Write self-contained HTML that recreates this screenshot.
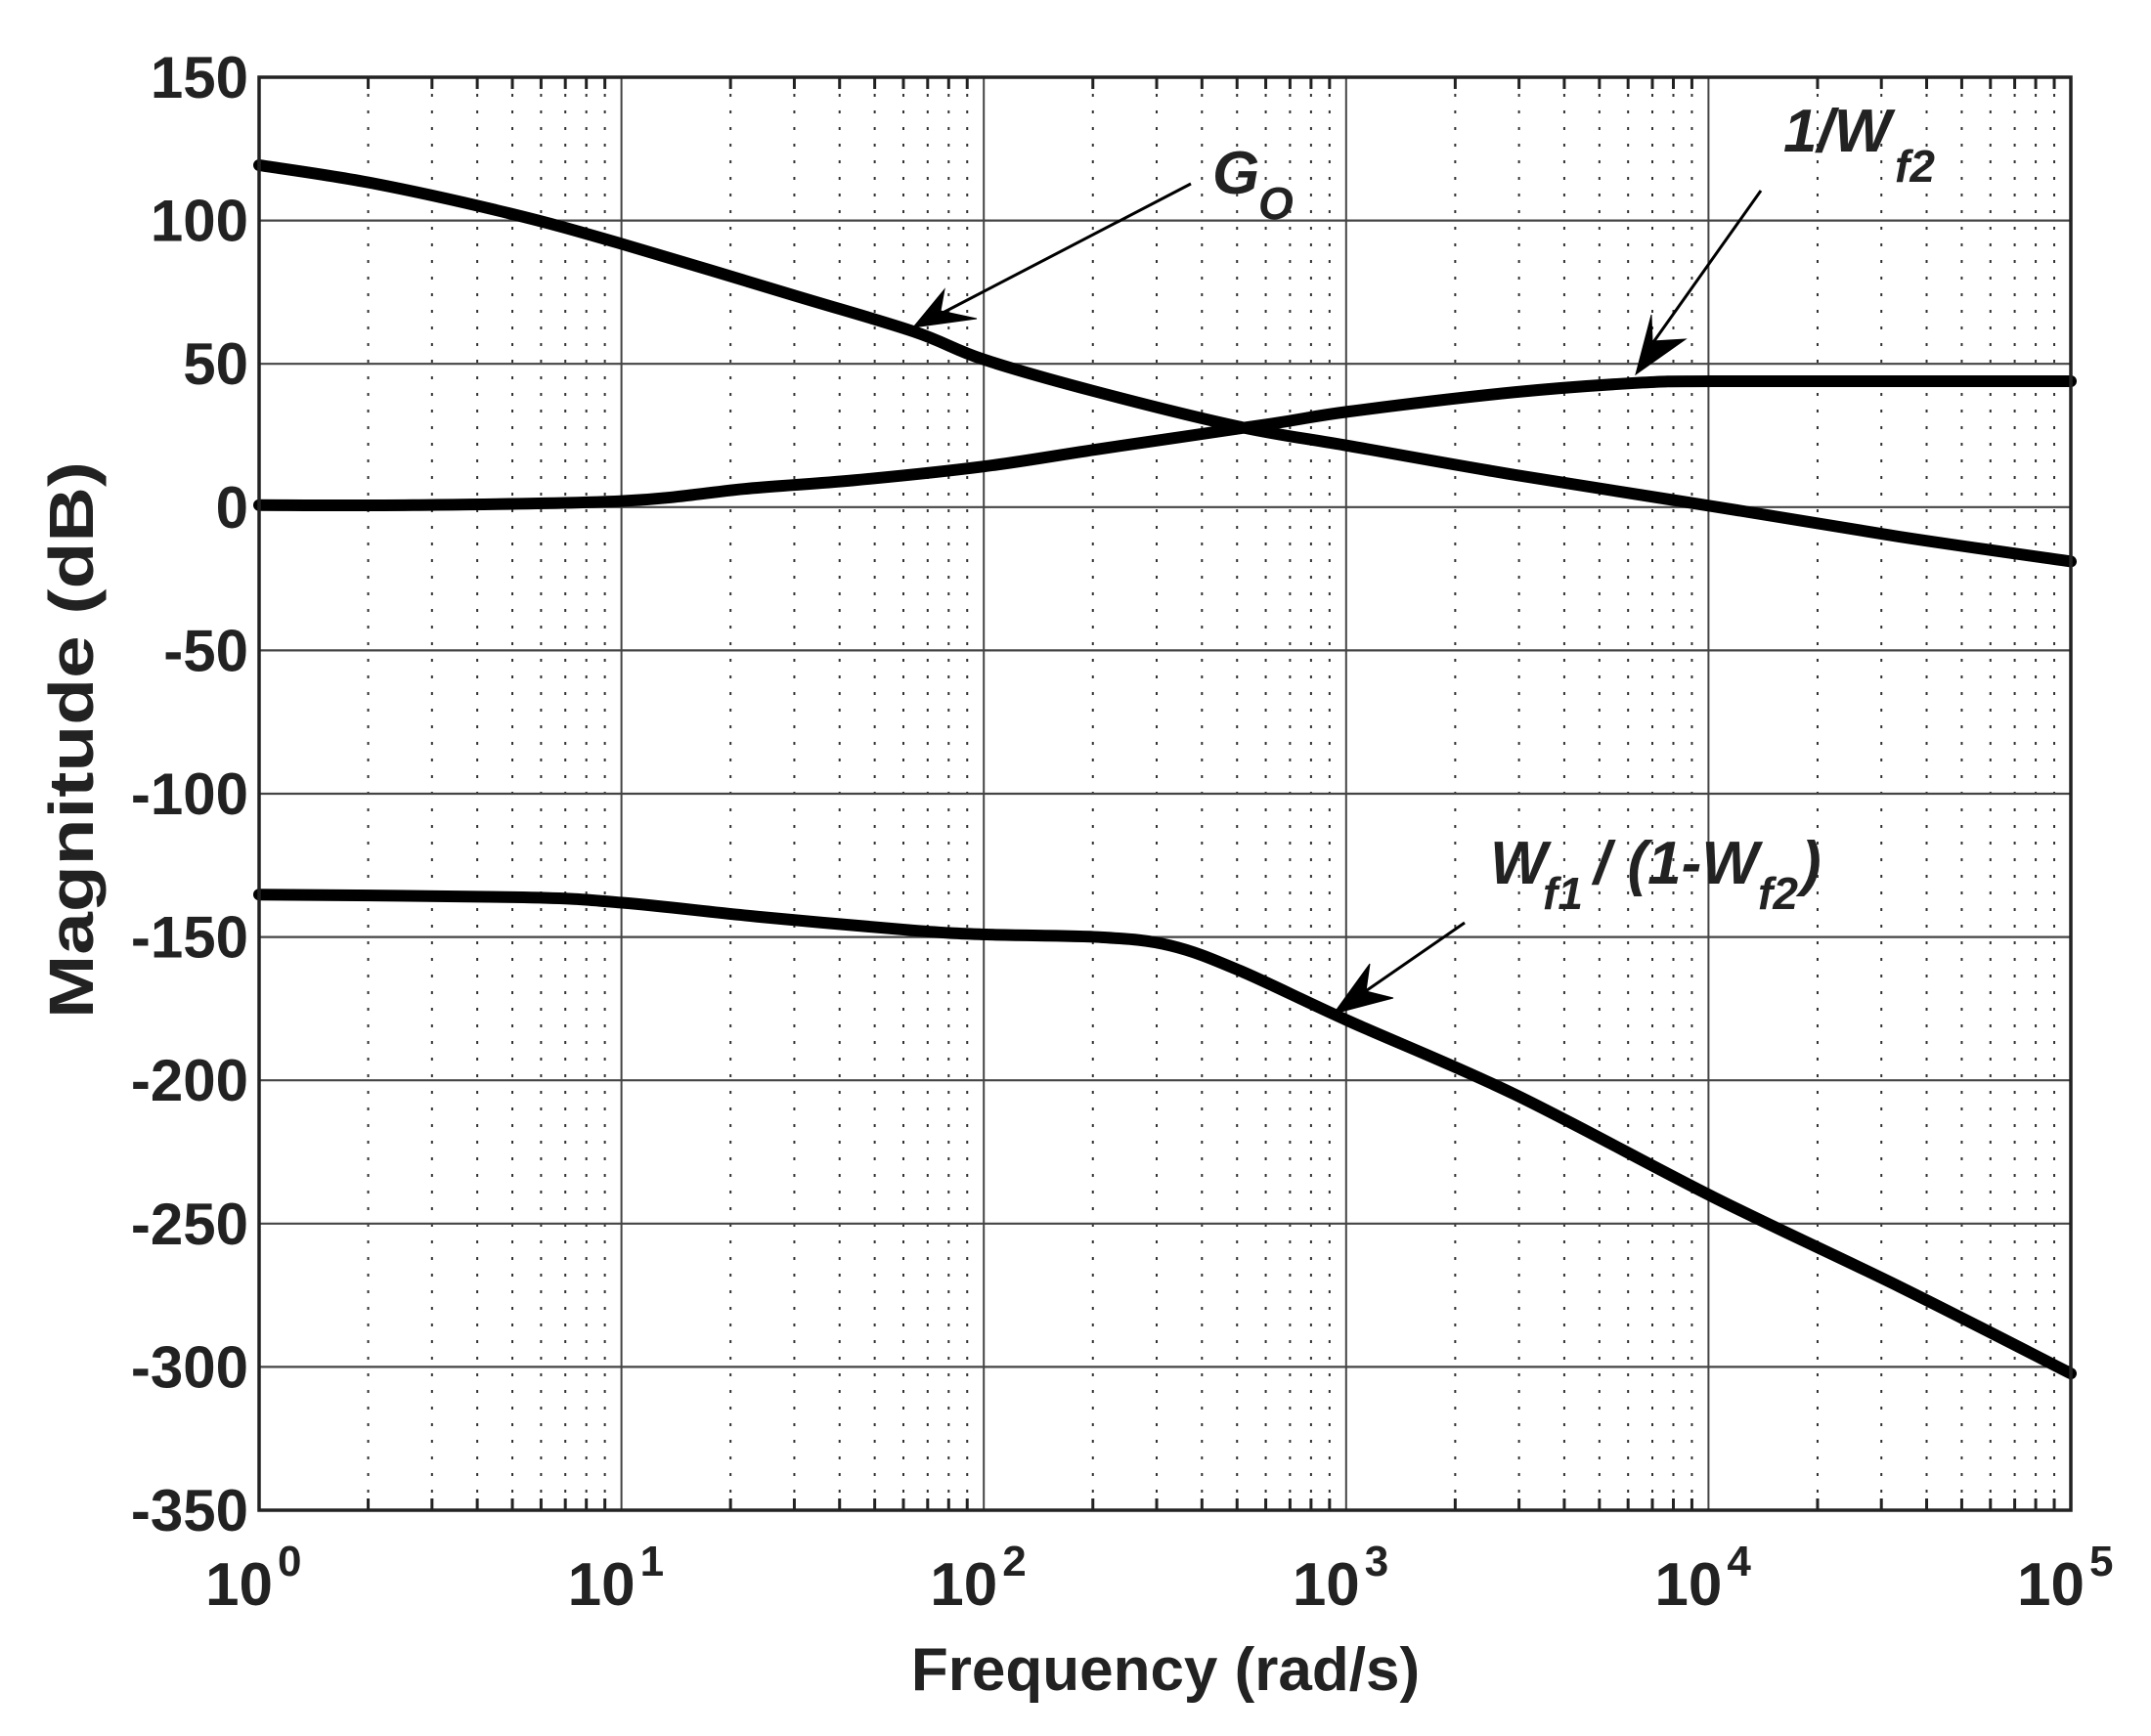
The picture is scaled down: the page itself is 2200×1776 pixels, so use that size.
<!DOCTYPE html>
<html><head><meta charset="utf-8"><style>
html,body{margin:0;padding:0;background:#fff;}
svg{display:block;}
text{font-family:"Liberation Sans",Arial,sans-serif;fill:#222;}
</style></head><body>
<svg id="s" width="2200" height="1776" viewBox="0 0 2200 1776" xmlns="http://www.w3.org/2000/svg">
<g id="grid"></g>
<g id="curves" fill="none" stroke="#000" stroke-width="12" stroke-linejoin="round" stroke-linecap="round"></g>
<rect x="265" y="79" width="1853" height="1466" fill="none" stroke="#222" stroke-width="3.5"/>
<g font-weight="bold" font-size="60" text-anchor="end" id="ylab"></g>
<g font-weight="bold" id="xlab"></g>
<text x="1192" y="1729" font-size="62" font-weight="bold" text-anchor="middle">Frequency (rad/s)</text>
<text transform="translate(95,757) rotate(-90)" font-size="64" font-weight="bold" text-anchor="middle" textLength="570" lengthAdjust="spacingAndGlyphs">Magnitude (dB)</text>
<g font-weight="bold" font-style="italic" fill="#000">
<text x="1240" y="198" font-size="62">G</text><text x="1287" y="224" font-size="46">O</text>
<text x="1824" y="155" font-size="62">1/W</text><text x="1938" y="186" font-size="46">f2</text>
<text x="1524" y="904" font-size="62">W</text><text x="1578" y="930" font-size="46">f1</text>
<text x="1630" y="904" font-size="62">/ (1-W</text><text x="1798" y="930" font-size="46">f2</text><text x="1842" y="904" font-size="62">)</text>
</g>
<g stroke="#000" stroke-width="3" fill="#000">
<line x1="1218" y1="188" x2="945" y2="330"/>
<polygon points="934,335 966,296 962,318 999,326" stroke-width="1"/>
<line x1="1801" y1="195" x2="1684" y2="360"/>
<polygon points="1673,383 1689,322 1690,349 1724,347" stroke-width="1"/>
<line x1="1498" y1="944" x2="1378" y2="1027"/>
<polygon points="1364,1037 1401,986 1397,1014 1425,1021" stroke-width="1"/>
</g>
</svg>
<script>
var NS="http://www.w3.org/2000/svg";
var L=265,R=2118,T=79,B=1545,D=(R-L)/5;
function el(p,t,a,txt){var e=document.createElementNS(NS,t);for(var k in a)e.setAttribute(k,a[k]);if(txt!=null)e.textContent=txt;p.appendChild(e);return e;}
var g=document.getElementById('grid');
for(var d=0;d<5;d++){for(var m=2;m<=9;m++){var x=L+(d+Math.log10(m))*D;
 el(g,'line',{x1:x,y1:T,x2:x,y2:B,stroke:'#333','stroke-width':2,'stroke-dasharray':'3,14'});
 el(g,'line',{x1:x,y1:B,x2:x,y2:B-12,stroke:'#222','stroke-width':3});
 el(g,'line',{x1:x,y1:T,x2:x,y2:T+12,stroke:'#222','stroke-width':3});}}
for(var d=1;d<5;d++){var x=L+d*D;el(g,'line',{x1:x,y1:T,x2:x,y2:B,stroke:'#444','stroke-width':2});}
for(var i=1;i<10;i++){var y=T+i*146.6;el(g,'line',{x1:L,y1:y,x2:R,y2:y,stroke:'#444','stroke-width':2.2});}
var yl=document.getElementById('ylab');
for(var i=0;i<=10;i++){el(yl,'text',{x:254,y:T+i*146.6+21},String(150-50*i));}
var xl=document.getElementById('xlab');
for(var d=0;d<=5;d++){var x=L+d*D;el(xl,'text',{x:x+14,y:1642,'font-size':62,'text-anchor':'end'},'10');el(xl,'text',{x:x+19,y:1612,'font-size':44},String(d));}
var k=1.408;
var curves=[
[[188,120],[270,133],[370,155],[451,177],[578,215],[664,241],[714,261],[794,284],[900,310],[980,324],[1100,345],[1245,368],[1380,390],[1510,408]],
[[188,367],[300,367],[453,364],[543,355],[620,349],[714,339],[800,326],[923,308],[980,299],[1100,285],[1193,278],[1245,277],[1380,277],[1510,277]],
[[188,650],[380,652],[453,656],[550,666],[663,676],[716,679],[800,681],[850,687],[900,705],[980,742],[1100,795],[1245,870],[1380,935],[1510,998]]];
var cg=document.getElementById('curves');
curves.forEach(function(c){var p=c.map(function(q){return [q[0]*k,q[1]*k];});p[0][0]=L;p[p.length-1][0]=R;
 var s='M'+p[0][0]+','+p[0][1];
 for(var i=0;i<p.length-1;i++){var p0=p[Math.max(i-1,0)],p1=p[i],p2=p[i+1],p3=p[Math.min(i+2,p.length-1)];
  var c1=[p1[0]+(p2[0]-p0[0])/6,p1[1]+(p2[1]-p0[1])/6],c2=[p2[0]-(p3[0]-p1[0])/6,p2[1]-(p3[1]-p1[1])/6];
  s+=' C'+c1+' '+c2+' '+p2;}
 el(cg,'path',{d:s});});
</script>
</body></html>
